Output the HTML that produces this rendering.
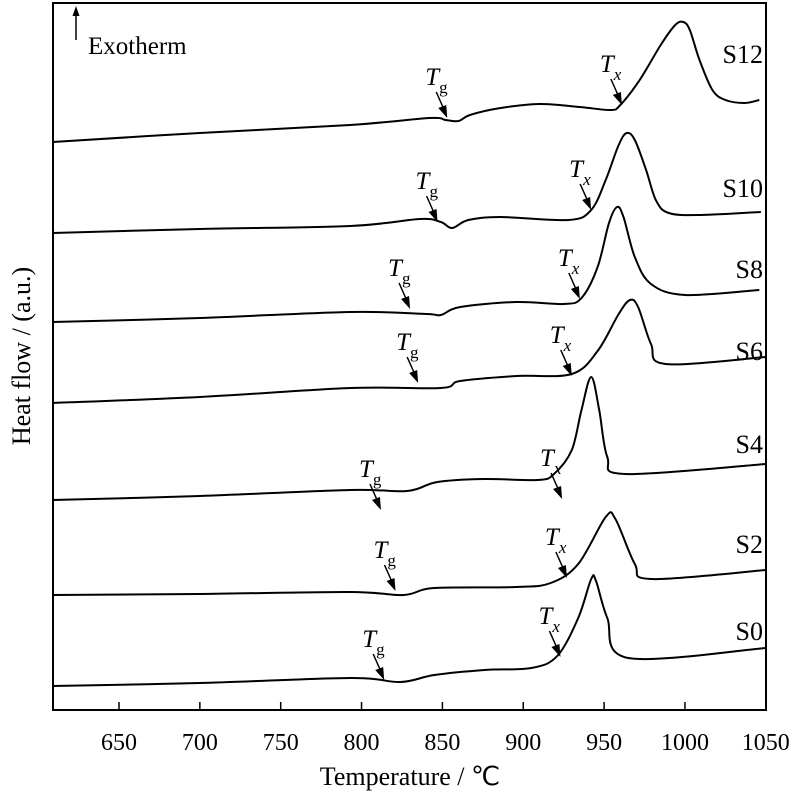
<!DOCTYPE html>
<html><head><meta charset="utf-8"><style>
html,body{margin:0;padding:0;background:#fff;}
svg{display:block;font-family:"Liberation Serif",serif;}
</style></head><body>
<svg id="chart" width="800" height="798" viewBox="0 0 800 798" xmlns="http://www.w3.org/2000/svg">
<rect x="53" y="3" width="713" height="707" fill="none" stroke="#000" stroke-width="2"/>
<g id="ticks"></g>
<g id="curves"></g>
<g id="annots"></g>
<g>
<line x1="76" y1="40" x2="76" y2="14" stroke="#000" stroke-width="1.5"/>
<polygon points="76,6 72.5,16 79.5,16" fill="#000"/>
<text x="88" y="54" font-size="25">Exotherm</text>
</g>
<text x="410" y="785" font-size="26" text-anchor="middle">Temperature / ℃</text>
<text transform="translate(30,356) rotate(-90)" font-size="26" text-anchor="middle">Heat flow / (a.u.)</text>
</svg>
<script>
const tickValues=[650,700,750,800,850,900,950,1000,1050];
const seriesNames=["S12","S10","S8","S6","S4","S2","S0"];
const tS12=[609,700,793,842,852,860,867,886,910,935,954,960,972,985,994,999,1003,1009,1017,1025,1037,1046];
const vS12=[568,577,585,592,590,589,595,602,606,603,600,605,630,665,685,688,680,650,620,610,607,610];
const tS10=[609,700,793,836,849,856,866,886,928,942,951,959,964,969,976,982,990,1010,1047];
const vS10=[477,481,484,491,488,482,490,493,490,500,530,565,577,570,540,510,497,495,498];
const tS8=[609,700,793,840,849,861,896,925,936,946,953,958,962,969,979,1000,1046];
const vS8=[388,392,398,396,395,403,408,406,412,443,487,503,493,453,426,415,420];
const tS6=[609,700,793,849,861,896,930,946,959,966,971,979,988,1050];
const vS6=[307,313,322,322,329,334,336,359,396,410,403,366,346,353];
const tS4=[609,700,793,828,847,876,909,919,930,936,942,947,952,963,1050];
const vS4=[210,214,220,219,228,231,230,236,260,300,333,300,253,236,246];
const tS2=[609,700,793,826,845,896,917,934,951,957,969,979,1050];
const vS2=[115,116,118,115,122,123,127,146,193,191,146,131,140];
const tS0=[609,700,793,824,845,876,905,921,934,942,945,952,965,1050];
const vS0=[24,27,32,28,35,40,42,54,92,131,129,92,52,62];
const tgT=[853,847,830,835,812,821,814];
const tgV=[592,488,401,327,200,119,30];
const txT=[961,942,935,930,924,927,923];
const txV=[605,500,411,334,211,132,53];
const labelV=[647,513,432,350,257,157,70];

const NS="http://www.w3.org/2000/svg";
const X=t=>119+(t-650)*1.617;
const Y=v=>710-v;
const ticks=document.getElementById('ticks');
tickValues.forEach(t=>{
  const l=document.createElementNS(NS,'line');
  
  
  l.setAttribute('x1',X(t));l.setAttribute('x2',X(t));
  l.setAttribute('y1',710);l.setAttribute('y2',702);
  l.setAttribute('stroke','#000');l.setAttribute('stroke-width','1.5');
  ticks.appendChild(l);
  const tx=document.createElementNS(NS,'text');
  
  
  tx.setAttribute('x',X(t));tx.setAttribute('y',750);
  tx.setAttribute('font-size','24');tx.setAttribute('text-anchor','middle');
  tx.textContent=t;ticks.appendChild(tx);
});
function pathD(ts,vs){
  const p=ts.map((t,i)=>[X(t),Y(vs[i])]);
  let d='M'+p[0][0].toFixed(1)+','+p[0][1].toFixed(1);
  for(let i=0;i<p.length-1;i++){
    const p0=p[i-1]||p[i],p1=p[i],p2=p[i+1],p3=p[i+2]||p2;
    const c1=[p1[0]+(p2[0]-p0[0])/6,p1[1]+(p2[1]-p0[1])/6];
    const c2=[p2[0]-(p3[0]-p1[0])/6,p2[1]-(p3[1]-p1[1])/6];
    d+=' C'+c1.map(n=>n.toFixed(1))+' '+c2.map(n=>n.toFixed(1))+' '+p2.map(n=>n.toFixed(1));
  }
  return d;
}
const allT=[tS12,tS10,tS8,tS6,tS4,tS2,tS0];
const allV=[vS12,vS10,vS8,vS6,vS4,vS2,vS0];
const curves=document.getElementById('curves');
const annots=document.getElementById('annots');
function arrow(t,v,name){
  const x=X(t),y=Y(v);
  const g=document.createElementNS(NS,'g');
  
  
  g.innerHTML='<line x1="'+(x-11)+'" y1="'+(y-26)+'" x2="'+(x-3)+'" y2="'+(y-8)+'" stroke="#000" stroke-width="1.5"/>'+
    '<polygon points="'+x+','+y+' '+(x-9)+','+(y-10)+' '+(x-1)+','+(y-13)+'" fill="#000"/>';
  annots.appendChild(g);
}
function label(t,v,sub,name){
  const x=X(t),y=Y(v);
  const tx=document.createElementNS(NS,'text');
  
  
  tx.setAttribute('x',x-22);tx.setAttribute('y',y-33);
  tx.setAttribute('font-size','25');
  tx.innerHTML='<tspan font-style="italic">T</tspan><tspan font-size="17" dy="8"'+(sub==='x'?' font-style="italic"':'')+'>'+sub+'</tspan>';
  annots.appendChild(tx);
}
seriesNames.forEach((n,i)=>{
  const p=document.createElementNS(NS,'path');
  
  
  p.setAttribute('d',pathD(allT[i],allV[i]));
  p.setAttribute('fill','none');p.setAttribute('stroke','#000');p.setAttribute('stroke-width','2');
  curves.appendChild(p);
  arrow(tgT[i],tgV[i],'tg-arrow-'+n.toLowerCase());
  arrow(txT[i],txV[i],'tx-arrow-'+n.toLowerCase());
  label(tgT[i],tgV[i],'g','tg-label-'+n.toLowerCase());
  label(txT[i],txV[i],'x','tx-label-'+n.toLowerCase());
  const s=document.createElementNS(NS,'text');
  
  
  s.setAttribute('x',763);s.setAttribute('y',Y(labelV[i]));
  s.setAttribute('font-size','26');s.setAttribute('text-anchor','end');
  s.textContent=n;annots.appendChild(s);
});
</script>
</body></html>
